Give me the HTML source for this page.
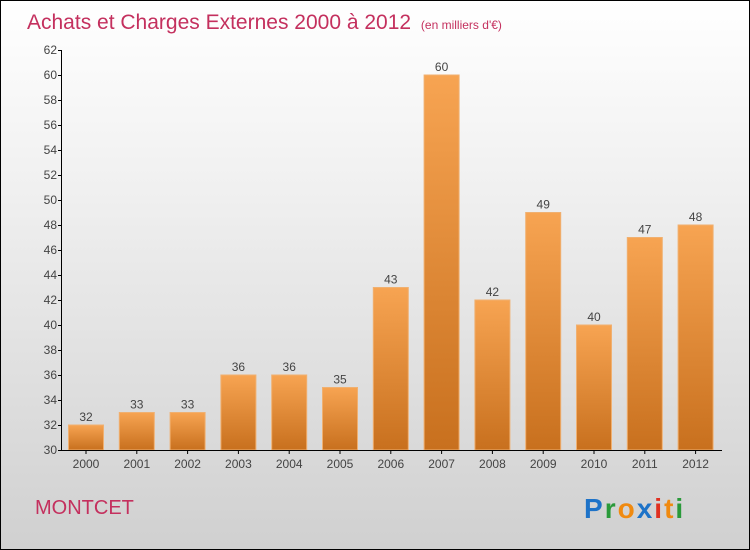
<!DOCTYPE html>
<html><head><meta charset="utf-8"><style>
body{margin:0}
#c{width:748px;height:548px;border:1px solid #000;background:linear-gradient(#fff,#f2f2f2 30%,#d0d0d0);position:relative;font-family:"Liberation Sans",sans-serif;overflow:hidden}
</style></head><body>
<div id="c">
<svg width="748" height="548" id="s">
<defs><linearGradient id="g" x1="0" y1="0" x2="0" y2="1"><stop offset="0" stop-color="#f7a452"/><stop offset="1" stop-color="#c8701e"/></linearGradient></defs>
<text x="26" y="28" font-size="21" fill="#c4305e">Achats et Charges Externes 2000 à 2012 <tspan font-size="12" dx="4">(en milliers d'€)</tspan></text>
<text x="34" y="513" font-size="20" fill="#c4305e">MONTCET</text>
<g font-size="28" font-weight="bold"><text x="583" y="517" letter-spacing="2"><tspan fill="#1e73c8">P</tspan><tspan fill="#2a9a3a">r</tspan><tspan fill="#f08a10">o</tspan><tspan fill="#1e73c8">x</tspan><tspan fill="#e03020">i</tspan><tspan fill="#f08a10">t</tspan><tspan fill="#2a9a3a">i</tspan></text></g>
<g id="bars"></g><g id="axes"></g>
</svg></div>
<script>
const years=["2000","2001","2002","2003","2004","2005","2006","2007","2008","2009","2010","2011","2012"];
const values=[32,33,33,36,36,35,43,60,42,49,40,47,48];
const yTicks=[30,32,34,36,38,40,42,44,46,48,50,52,54,56,58,60,62];
const NS="http://www.w3.org/2000/svg";
const y=v=>449-(v-30)*12.5;
const x=i=>85+i*50.8;
function mk(t,a,p){const e=document.createElementNS(NS,t);for(const k in a)e.setAttribute(k,a[k]);p.appendChild(e);return e;}
const bars=document.getElementById('bars'),ax=document.getElementById('axes');
values.forEach((v,i)=>{
 const r=mk('rect',{x:x(i)-17.5,y:y(v),width:35,height:449-y(v),fill:'url(#g)',stroke:'#f0b070','stroke-width':1},bars);
 
 
 const t=mk('text',{x:x(i),y:y(v)-4,'text-anchor':'middle','font-size':12,fill:'#444'},bars);t.textContent=v;
 
 
 const l=mk('text',{x:x(i),y:467,'text-anchor':'middle','font-size':12,fill:'#444'},ax);l.textContent=years[i];
 
 
 mk('line',{x1:x(i),x2:x(i),y1:449,y2:453,stroke:'#000'},ax);
});
const ya=mk('line',{x1:60.5,x2:60.5,y1:49,y2:449,stroke:'#000'},ax);


const xa=mk('line',{x1:60,x2:721,y1:449.5,y2:449.5,stroke:'#000'},ax);


yTicks.forEach(v=>{
 mk('line',{x1:57,x2:61,y1:y(v)+.5,y2:y(v)+.5,stroke:'#000'},ax);
 const t=mk('text',{x:56,y:y(v)+4,'text-anchor':'end','font-size':12,fill:'#444'},ax);t.textContent=v;
 
 
});
</script></body></html>
